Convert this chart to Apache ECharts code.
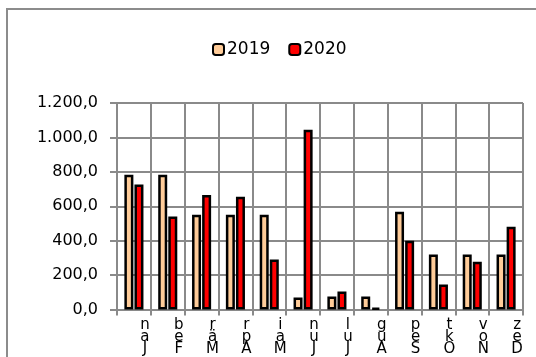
<!DOCTYPE html>
<html>
<head>
<meta charset="utf-8">
<script src="https://cdn.jsdelivr.net/npm/echarts@6/dist/echarts.min.js"></script>
<style>
html,body{margin:0;padding:0;background:#fff;}
#frame{position:absolute;left:6px;top:8px;width:540px;height:360px;border-left:2px solid #8c8c8c;border-top:2px solid #8c8c8c;}
#c{position:absolute;left:0;top:0;width:536px;height:357px;}
body{width:536px;height:357px;overflow:hidden;position:relative;}
</style>
</head>
<body>
<div id="frame"></div>
<div id="c"></div>
<script>
const categories = ['Jan','Feb','Mär','Apr','Mai','Jun','Jul','Aug','Sep','Okt','Nov','Dez'];
const seriesNames = ['2019','2020'];
const values2019 = [783, 783, 551, 551, 551, 70, 75, 75, 568, 319, 319, 319];
const values2020 = [727, 540, 665, 655, 290, 1045, 104, 10, 400, 145, 278, 481];
const yTicks = { min: 0, max: 1200, interval: 200 };

const lineColor = '#8a8a8a';
const lw = 2;
const chart = echarts.init(document.getElementById('c'));
function fmt(v){
  const s = v.toFixed(1).split('.');
  return s[0].replace(/\B(?=(\d{3})+(?!\d))/g, '.') + ',' + s[1];
}
chart.setOption({
  animation: false,
  textStyle: { fontFamily: 'DejaVu Sans' },
  legend: {
    left: 207, top: 36,
    itemWidth: 11, itemHeight: 11, itemGap: 18,
    textStyle: { fontSize: 17, color: '#000', fontFamily: 'DejaVu Sans', padding: [0,0,0,-2] },
    data: seriesNames
  },
  grid: { left: 117, right: 13, top: 103, bottom: 47 },
  xAxis: {
    type: 'category', data: categories,
    axisLine: { show: true, lineStyle: { color: lineColor, width: lw } },
    axisTick: { show: true, length: 6, lineStyle: { color: lineColor, width: lw } },
    splitLine: { show: true, lineStyle: { color: lineColor, width: lw, type: 'solid' } },
    axisLabel: {
      interval: 0, margin: 10, color: '#000', fontSize: 15, lineHeight: 12,
      padding: [0,0,0,22],
      formatter: v => v.split('').reverse().join('\n')
    }
  },
  yAxis: {
    type: 'value', min: yTicks.min, max: yTicks.max, interval: yTicks.interval,
    axisLine: { show: true, lineStyle: { color: lineColor, width: lw } },
    axisTick: { show: true, length: 7, lineStyle: { color: lineColor, width: lw } },
    splitLine: { show: true, lineStyle: { color: lineColor, width: lw, type: 'solid' } },
    axisLabel: { color: '#000', fontSize: 16, margin: 19, formatter: fmt }
  },
  series: [
    { name: seriesNames[0], type: 'bar', data: values2019, barWidth: 9, barGap: '12%', z: 5,
      itemStyle: { color: '#FFCC99', borderColor: '#000', borderWidth: 2.5 } },
    { name: seriesNames[1], type: 'bar', data: values2020, barWidth: 9, z: 5,
      itemStyle: { color: '#FF0000', borderColor: '#000', borderWidth: 2.5 } }
  ]
});
</script>
</body>
</html>
